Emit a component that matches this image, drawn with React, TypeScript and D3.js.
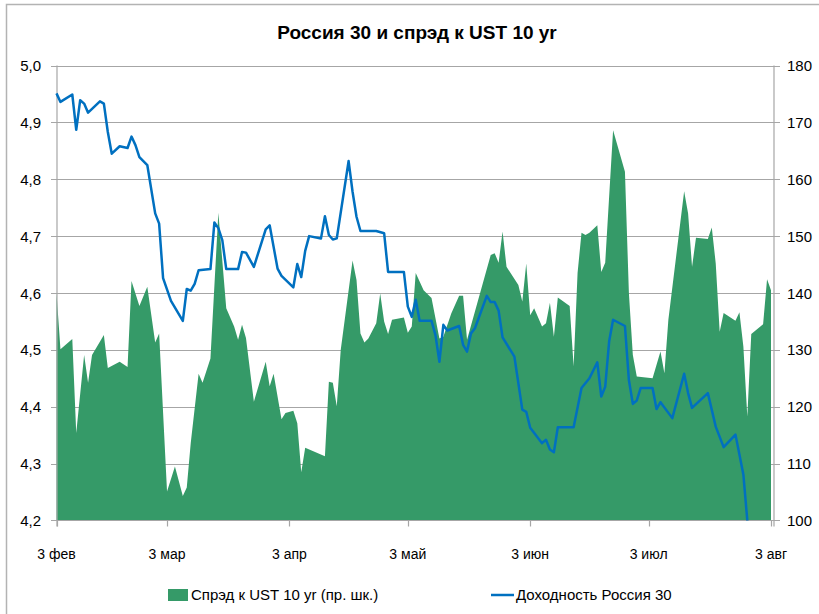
import { useEffect, useRef } from "react";
import * as d3 from "d3";

const YEAR = "2014";

// Спрэд к UST 10 yr, б.п. (правая шкала)
const spreadDates = [
  "02-03", "02-04", "02-07", "02-08", "02-10", "02-11", "02-12", "02-15", "02-16", "02-19",
  "02-21", "02-22", "02-24", "02-26", "02-28", "03-01", "03-03", "03-05", "03-07", "03-08",
  "03-09", "03-11", "03-12", "03-14", "03-16", "03-18", "03-20", "03-21", "03-22", "03-23",
  "03-25", "03-28", "03-29", "03-30", "04-01", "04-02", "04-04", "04-05", "04-06", "04-07",
  "04-12", "04-13", "04-14", "04-15", "04-16", "04-19", "04-20", "04-21", "04-22", "04-23",
  "04-25", "04-26", "04-27", "04-28", "04-29", "05-02", "05-03", "05-04", "05-05", "05-07",
  "05-09", "05-11", "05-12", "05-14", "05-16", "05-17", "05-18", "05-24", "05-25", "05-26",
  "05-27", "05-28", "05-31", "06-01", "06-02", "06-03", "06-04", "06-06", "06-07", "06-08",
  "06-09", "06-10", "06-13", "06-14", "06-15", "06-16", "06-17", "06-18", "06-20", "06-21",
  "06-22", "06-24", "06-27", "06-28", "06-29", "06-30", "07-04", "07-06", "07-07", "07-08",
  "07-12", "07-13", "07-14", "07-15", "07-18", "07-19", "07-20", "07-21", "07-22", "07-25",
  "07-26", "07-27", "07-28", "07-29", "08-01", "08-02", "08-03",
];
const spreadValues = [
  140.0, 130.1, 131.9, 115.4, 129.1, 124.2, 129.1, 132.6, 126.8, 127.9,
  127.0, 142.1, 137.7, 141.1, 131.3, 132.9, 105.1, 109.5, 104.3, 105.8,
  113.6, 125.8, 124.2, 128.5, 154.1, 137.3, 134.1, 131.8, 134.4, 132.1,
  120.9, 127.9, 123.6, 125.8, 117.8, 118.9, 119.3, 117.1, 108.5, 112.8,
  111.3, 124.4, 124.2, 120.1, 130.0, 145.7, 142.3, 132.9, 131.3, 132.0,
  134.7, 139.9, 135.0, 132.8, 135.3, 135.7, 133.0, 134.1, 143.5, 140.5,
  139.1, 132.0, 132.3, 136.4, 139.5, 139.5, 131.8, 146.7, 147.0, 145.3,
  150.8, 144.6, 141.4, 138.5, 145.2, 136.1, 137.3, 134.1, 134.7, 138.3,
  132.3, 139.2, 137.7, 127.1, 143.5, 150.6, 150.2, 150.6, 151.9, 143.7,
  145.3, 168.6, 161.3, 140.0, 129.1, 125.3, 125.0, 129.7, 125.9, 135.3,
  157.9, 154.0, 144.6, 149.7, 149.5, 151.5, 145.2, 133.2, 136.5, 135.1,
  136.6, 130.6, 118.3, 132.8, 134.5, 142.4, 140.5,
];

// Доходность Россия 30, % (левая шкала)
const yieldDates = [
  "02-03", "02-04", "02-07", "02-08", "02-09", "02-10", "02-11", "02-14", "02-15", "02-16",
  "02-17", "02-19", "02-21", "02-22", "02-23", "02-24", "02-26", "02-28", "03-01", "03-02",
  "03-04", "03-07", "03-08", "03-09", "03-10", "03-11", "03-14", "03-15", "03-16", "03-17",
  "03-18", "03-21", "03-22", "03-23", "03-25", "03-28", "03-29", "03-31", "04-01", "04-04",
  "04-05", "04-06", "04-07", "04-08", "04-11", "04-12", "04-13", "04-14", "04-15", "04-18",
  "04-19", "04-20", "04-21", "04-25", "04-27", "04-28", "05-02", "05-03", "05-04", "05-05",
  "05-06", "05-09", "05-10", "05-11", "05-12", "05-13", "05-16", "05-17", "05-18", "05-19",
  "05-20", "05-23", "05-24", "05-25", "05-26", "05-27", "05-30", "06-01", "06-02", "06-03",
  "06-06", "06-07", "06-08", "06-09", "06-10", "06-14", "06-16", "06-18", "06-20", "06-21",
  "06-22", "06-23", "06-24", "06-27", "06-28", "06-29", "06-30", "07-01", "07-04", "07-05",
  "07-06", "07-09", "07-12", "07-13", "07-14", "07-18", "07-20", "07-22", "07-25", "07-26",
  "07-27", "07-28",
];
const yieldValues = [
  4.951, 4.936, 4.949, 4.887, 4.939, 4.933, 4.917, 4.937, 4.933, 4.883,
  4.845, 4.858, 4.855, 4.875, 4.86, 4.839, 4.825, 4.74, 4.722, 4.626,
  4.586, 4.551, 4.607, 4.604, 4.616, 4.64, 4.642, 4.724, 4.714, 4.693,
  4.642, 4.642, 4.672, 4.671, 4.646, 4.712, 4.719, 4.643, 4.63, 4.61,
  4.651, 4.628, 4.674, 4.7, 4.696, 4.735, 4.702, 4.694, 4.696, 4.832,
  4.778, 4.734, 4.709, 4.709, 4.705, 4.637, 4.637, 4.576, 4.558, 4.588,
  4.551, 4.551, 4.526, 4.479, 4.544, 4.534, 4.542, 4.509, 4.497, 4.529,
  4.538, 4.595, 4.584, 4.584, 4.569, 4.522, 4.488, 4.395, 4.391, 4.363,
  4.336, 4.342, 4.325, 4.32, 4.364, 4.364, 4.433, 4.45, 4.478, 4.418,
  4.435, 4.515, 4.553, 4.542, 4.447, 4.405, 4.411, 4.433, 4.433, 4.396,
  4.408, 4.38, 4.458, 4.424, 4.398, 4.424, 4.365, 4.329, 4.351, 4.316,
  4.281, 4.2,
];

const xTickDates = ["02-03", "03-03", "04-03", "05-03", "06-03", "07-03", "08-03"];
const xTickLabels = ["3 фев", "3 мар", "3 апр", "3 май", "3 июн", "3 июл", "3 авг"];
const leftTicks = [4.2, 4.3, 4.4, 4.5, 4.6, 4.7, 4.8, 4.9, 5.0];
const rightTicks = [100, 110, 120, 130, 140, 150, 160, 170, 180];

const TITLE = "Россия 30 и спрэд к UST 10 yr";
const LEGEND_SPREAD = "Спрэд к UST 10 yr (пр. шк.)";
const LEGEND_YIELD = "Доходность Россия 30";

const GREEN = "#359a68";
const BLUE = "#0070c0";
const GRID = "#a6a6a6";
const FONT = "'Liberation Sans', Arial, sans-serif";

const parse = d3.timeParse("%Y-%m-%d");
const toDate = (s: string) => parse(`${YEAR}-${s}`) as Date;

export default function App() {
  const svgRef = useRef<SVGSVGElement>(null);

  useEffect(() => {
    if (!svgRef.current) return;
    const svg = d3.select(svgRef.current);
    svg.selectAll("*").remove();

    const left = 57;
    const right = 774;
    const top = 65.5;
    const bottom = 520.5;

    const spread = spreadDates.map((d, i) => ({ date: toDate(d), v: spreadValues[i] }));
    const yld = yieldDates.map((d, i) => ({ date: toDate(d), v: yieldValues[i] }));

    const x = d3.scaleTime()
      .domain([toDate("02-03"), toDate("08-03")])
      .range([56.5, 771]);
    const yL = d3.scaleLinear().domain([4.2, 5.0]).range([bottom, top]);
    const yR = d3.scaleLinear().domain([100, 180]).range([bottom, top]);

    // outer border
    svg.append("rect")
      .attr("x", 6.5).attr("y", 4.5).attr("width", 840).attr("height", 640)
      .attr("fill", "white").attr("stroke", "#b3b3b3").attr("stroke-width", 1.5);

    // title
    svg.append("text")
      .attr("x", 417).attr("y", 39)
      .attr("text-anchor", "middle").attr("font-family", FONT)
      .attr("font-weight", "bold").attr("font-size", "19px").attr("fill", "#000")
      .text(TITLE);

    // grid
    svg.append("g").selectAll("line").data(leftTicks.slice(1)).enter()
      .append("line")
      .attr("x1", left - 6).attr("x2", right + 6)
      .attr("y1", (d) => Math.round(yL(d)) + 0.5).attr("y2", (d) => Math.round(yL(d)) + 0.5)
      .attr("stroke", GRID).attr("stroke-width", 1.2);

    // spread area
    const area = d3.area<{ date: Date; v: number }>()
      .x((d) => x(d.date))
      .y0(yR(100))
      .y1((d) => yR(d.v));
    svg.append("path").datum(spread).attr("d", area).attr("fill", GREEN);

    // axes lines
    svg.append("line").attr("x1", left).attr("x2", left).attr("y1", top).attr("y2", bottom + 6)
      .attr("stroke", GRID).attr("stroke-width", 1.2);
    svg.append("line").attr("x1", right).attr("x2", right).attr("y1", top).attr("y2", bottom + 6)
      .attr("stroke", GRID).attr("stroke-width", 1.2);
    svg.append("line").attr("x1", left - 6).attr("x2", right + 6).attr("y1", bottom).attr("y2", bottom)
      .attr("stroke", GRID).attr("stroke-width", 1.2);

    // x ticks
    const xt = xTickDates.map(toDate);
    svg.append("g").selectAll("line").data(xt).enter()
      .append("line")
      .attr("x1", (d) => Math.round(x(d)) + 0.5).attr("x2", (d) => Math.round(x(d)) + 0.5)
      .attr("y1", bottom).attr("y2", bottom + 6)
      .attr("stroke", GRID).attr("stroke-width", 1.2);

    // yield line
    const line = d3.line<{ date: Date; v: number }>()
      .x((d) => x(d.date))
      .y((d) => yL(d.v));
    svg.append("path").datum(yld).attr("d", line)
      .attr("fill", "none").attr("stroke", BLUE).attr("stroke-width", 2.5)
      .attr("stroke-linejoin", "round");

    // left labels
    svg.append("g").selectAll("text").data(leftTicks).enter()
      .append("text")
      .attr("x", 41).attr("y", (d) => yL(d) + 5.5)
      .attr("text-anchor", "end").attr("font-family", FONT).attr("font-size", "15px").attr("fill", "#000")
      .text((d) => d3.format(".1f")(d).replace(".", ","));

    // right labels
    svg.append("g").selectAll("text").data(rightTicks).enter()
      .append("text")
      .attr("x", 787).attr("y", (d) => yR(d) + 5.5)
      .attr("text-anchor", "start").attr("font-family", FONT).attr("font-size", "15px").attr("fill", "#000")
      .text((d) => d);

    // x labels
    svg.append("g").selectAll("text").data(xt).enter()
      .append("text")
      .attr("x", (d) => x(d)).attr("y", 559)
      .attr("text-anchor", "middle").attr("font-family", FONT).attr("font-size", "14px").attr("fill", "#000")
      .text((_, i) => xTickLabels[i]);

    // legend
    const lg = svg.append("g").attr("font-family", FONT).attr("font-size", "15px").attr("fill", "#000");
    lg.append("rect").attr("x", 168).attr("y", 589).attr("width", 20).attr("height", 12).attr("fill", GREEN);
    lg.append("text").attr("x", 191).attr("y", 600).text(LEGEND_SPREAD);
    lg.append("line").attr("x1", 491).attr("x2", 514).attr("y1", 595).attr("y2", 595)
      .attr("stroke", BLUE).attr("stroke-width", 2.5);
    lg.append("text").attr("x", 516).attr("y", 600).text(LEGEND_YIELD);
  }, []);

  return (
    <svg
      ref={svgRef}
      width={819}
      height={614}
      style={{ position: "absolute", left: 0, top: 0, background: "white" }}
    />
  );
}
